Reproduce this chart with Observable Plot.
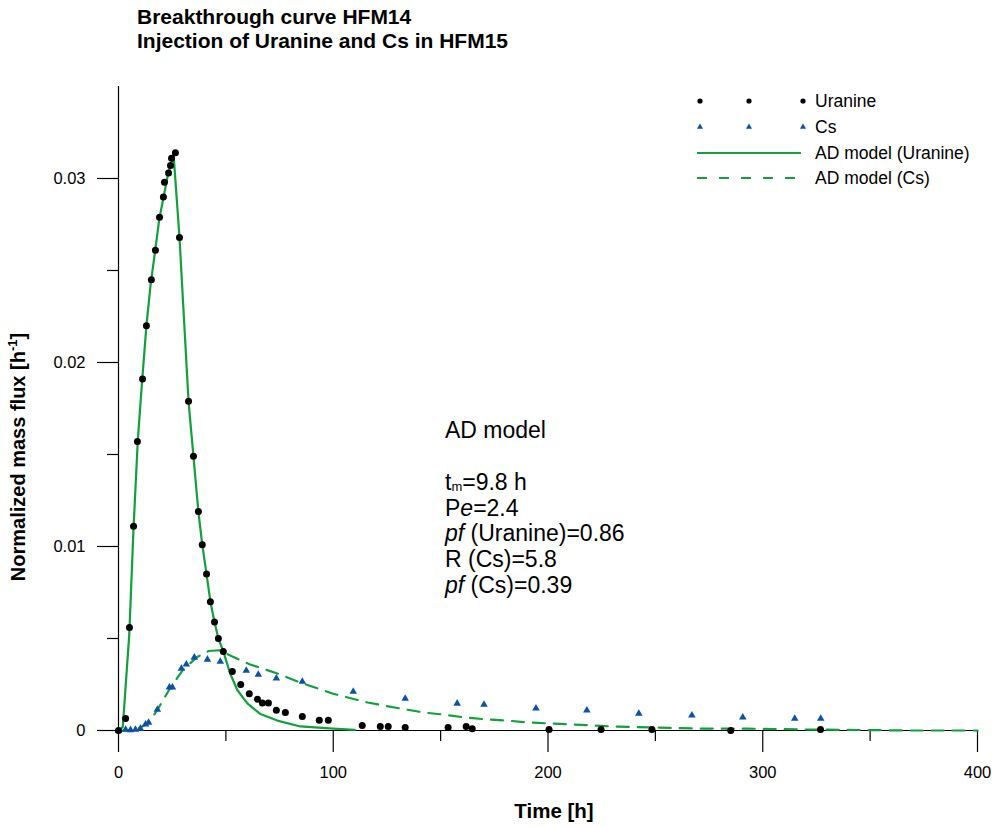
<!DOCTYPE html>
<html>
<head>
<meta charset="utf-8">
<script src="https://cdn.jsdelivr.net/npm/d3@7"></script>
<script src="https://cdn.jsdelivr.net/npm/@observablehq/plot@0.6"></script>
<style>
  body { margin: 0; background: #fff; font-family: "Liberation Sans", Arial, sans-serif; }
  #wrap { position: relative; width: 997px; height: 827px; }
  .title { position: absolute; left: 137px; font-weight: bold; font-size: 21px; line-height: 24px; color: #000; white-space: nowrap; }
  .note { position: absolute; left: 445px; font-size: 23px; line-height: 25.7px; color: #000; white-space: nowrap; }
  .ylab { position: absolute; left: 18px; top: 457px; transform: translate(-50%, -50%) rotate(-90deg); font-weight: bold; font-size: 20px; white-space: nowrap; }
  .xlab { position: absolute; left: 554px; top: 811px; transform: translate(-50%, -50%); font-weight: bold; font-size: 20.5px; white-space: nowrap; }
  #legend { position: absolute; left: 690px; top: 88px; }
</style>
</head>
<body>
<div id="wrap"></div>
<script>
// Measured data: Uranine (black dots)
const uranineT = [0, 3.3, 5.1, 7.0, 8.8, 11.2, 13.0, 15.3, 17.2, 19.1, 20.9, 21.4, 23.3, 24.2, 24.7, 26.5,
  28.4, 32.6, 34.9, 37.2, 39.0, 41.0, 42.8, 44.7, 46.5, 48.8, 53.0, 56.9, 60.9, 64.7, 67.0, 69.8, 73.5, 77.7,
  85.6, 93.5, 97.7, 113.5, 121.9, 125.6, 133.5, 153.5, 161.9, 164.7, 200.5, 224.7, 248.4, 285.1, 326.9];
const uranineV = [0, 0.00065, 0.0056, 0.0111, 0.0157, 0.0191, 0.0220, 0.0245, 0.0261, 0.0279, 0.0290, 0.0298, 0.0303, 0.0307, 0.0311, 0.0314,
  0.0268, 0.0179, 0.0149, 0.0119, 0.0101, 0.0085, 0.0070, 0.0059, 0.0050, 0.0043, 0.0032, 0.0025, 0.0020, 0.0017, 0.0015, 0.0015, 0.0011, 0.00098,
  0.00076, 0.00056, 0.00056, 0.00027, 0.00022, 0.00022, 0.00016, 0.00016, 0.00022, 0.0001, 0.00005, 0.00005, 0.00005, 0, 0.00005];

// Measured data: Cs (blue triangles)
const csT = [0, 3.3, 5.6, 7.9, 10.2, 12.6, 14.0, 18.1, 23.7, 25.1, 29.3, 31.6, 35.3, 41.4, 47.4, 59.5, 65.1, 73.5,
  85.6, 109.3, 133.5, 157.7, 170.2, 194.4, 218.1, 242.3, 267.0, 290.7, 314.9, 327.0];
const csV = [0, 0.00005, 0.00003, 0.00005, 0.0001, 0.00033, 0.00043, 0.00114, 0.00234, 0.00234, 0.00337, 0.00359, 0.00397, 0.00386, 0.00375, 0.00326, 0.00304, 0.00283,
  0.00266, 0.00212, 0.00174, 0.00147, 0.00141, 0.0012, 0.00109, 0.00092, 0.00082, 0.00071, 0.00065, 0.00065];

// AD model (Uranine), solid line
const modelUT = [0, 2, 5, 7, 9, 11, 13, 15, 17, 19, 21, 23, 25, 25.7, 28.4, 32.6, 34.9, 37.2, 39, 41, 42.8, 44.7, 46.5, 48.8,
  52, 55.3, 60, 66, 74, 84.7, 100, 110];
const modelUV = [0, 0.0002, 0.0052, 0.0110, 0.0158, 0.0190, 0.0220, 0.0243, 0.0260, 0.0278, 0.0290, 0.0302, 0.0310, 0.0312, 0.0268, 0.0179, 0.0149, 0.0119, 0.0101, 0.0085, 0.0070, 0.0059, 0.0050, 0.0043,
  0.0031, 0.0022, 0.00147, 0.0009, 0.00054, 0.00022, 0.0001, 0.00003];

// AD model (Cs), dashed line
const modelCsT = [0, 4, 7, 10, 14, 18, 24, 30, 36.7, 42, 47, 53.5, 61, 74, 84.7, 100, 116, 131, 142, 151, 161, 171.6, 181, 191.6, 201,
  211.6, 221, 230, 250.7, 270.7, 292.6, 323, 370, 400];
const modelCsV = [0, 0.00001, 0.00005, 0.00015, 0.0004, 0.0011, 0.0023, 0.0033, 0.0040, 0.00432, 0.00436, 0.0040, 0.0036, 0.0031, 0.0026, 0.0020, 0.00152, 0.0012, 0.00098, 0.00087, 0.00071, 0.0006, 0.00054, 0.00043, 0.00038,
  0.00033, 0.00027, 0.00022, 0.00016, 0.0001, 0.0001, 0.00005, 0, 0];

const yMajor = [0, 0.01, 0.02, 0.03];
const yMinor = [0.005, 0.015, 0.025];
const xMajor = [0, 100, 200, 300, 400];
const xMinor = [50, 150, 250, 350];

const green = "#12a03c";
const blue = "#0b52a6";

const uranine = uranineT.map((t, i) => ({t, v: uranineV[i]}));
const cs = csT.map((t, i) => ({t, v: csV[i]}));
const modelU = modelUT.map((t, i) => ({t, v: modelUV[i]}));
const modelCs = modelCsT.map((t, i) => ({t, v: modelCsV[i]}));

const chart = Plot.plot({
  width: 997,
  height: 827,
  marginLeft: 118,
  marginRight: 20,
  marginTop: 86,
  marginBottom: 97,
  style: {fontFamily: "'Liberation Sans', Arial, sans-serif", fontSize: "16.5px", color: "#000", background: "transparent"},
  x: {domain: [0, 400]},
  y: {domain: [0, 0.035]},
  marks: [
    Plot.ruleX([0], {y1: 0, y2: 0.035, stroke: "#000", strokeWidth: 1.2}),
    Plot.ruleY([0], {stroke: "#000", strokeWidth: 1.2}),
    Plot.axisY(yMajor, {tickSize: 21, tickPadding: 12, tickFormat: d => d === 0 ? "0" : d3.format(".2f")(d), label: null, strokeWidth: 1.2}),
    Plot.axisY(yMinor, {tickSize: 11, tickFormat: () => "", label: null, strokeWidth: 1.2}),
    Plot.axisX(xMajor, {tickSize: 22, tickPadding: 14, tickFormat: d => String(d), label: null, strokeWidth: 1.2}),
    Plot.axisX(xMinor, {tickSize: 11, tickFormat: () => "", label: null, strokeWidth: 1.2}),
    Plot.line(modelU, {x: "t", y: "v", stroke: green, strokeWidth: 2.2}),
    Plot.line(modelCs, {x: "t", y: "v", stroke: green, strokeWidth: 2.2, strokeDasharray: "12,9"}),
    Plot.dot(cs, {x: "t", y: "v", symbol: "triangle", r: 2.8, fill: blue, stroke: "none"}),
    Plot.dot(uranine, {x: "t", y: "v", r: 3.5, fill: "#000", stroke: "none"})
  ]
});

const wrap = document.getElementById("wrap");
chart.style.position = "absolute";
chart.style.left = "0px";
chart.style.top = "0px";
wrap.appendChild(chart);

function addDiv(cls, html, top) {
  const d = document.createElement("div");
  d.className = cls;
  d.innerHTML = html;
  if (top !== undefined) d.style.top = top + "px";
  wrap.appendChild(d);
  return d;
}

addDiv("title", "Breakthrough curve HFM14", 5);
addDiv("title", "Injection of Uranine and Cs in HFM15", 29);
addDiv("ylab", "Normalized mass flux [h<sup style='font-size:13px;line-height:0'>-1</sup>]");
addDiv("xlab", "Time [h]");
addDiv("note", "AD model", 418);
const lines = [
  "t<span style='font-size:13px;position:relative;top:1px'>m</span>=9.8 h",
  "P<i>e</i>=2.4",
  "<i>pf</i> (Uranine)=0.86",
  "R (Cs)=5.8",
  "<i>pf</i> (Cs)=0.39"
];
lines.forEach((s, i) => addDiv("note", s, 470 + i * 25.7));

// Legend
const legendItems = ["Uranine", "Cs", "AD model (Uranine)", "AD model (Cs)"];
const lg = d3.create("svg").attr("width", 305).attr("height", 110).attr("id", "legend")
  .style("font-family", "'Liberation Sans', Arial, sans-serif").style("font-size", "17.5px");
const rowY = [13, 39, 65, 90];
[10, 59, 113].forEach(x => {
  lg.append("circle").attr("cx", x).attr("cy", rowY[0]).attr("r", 2.6).attr("fill", "#000");
  lg.append("path").attr("d", d3.symbol(d3.symbolTriangle, 16)()).attr("transform", `translate(${x},${rowY[1]})`).attr("fill", blue);
});
lg.append("line").attr("x1", 7).attr("x2", 111).attr("y1", rowY[2]).attr("y2", rowY[2]).attr("stroke", green).attr("stroke-width", 2);
lg.append("line").attr("x1", 7).attr("x2", 111).attr("y1", rowY[3]).attr("y2", rowY[3]).attr("stroke", green).attr("stroke-width", 2).attr("stroke-dasharray", "10,12");
legendItems.forEach((s, i) => {
  lg.append("text").attr("x", 125).attr("y", rowY[i]).attr("dy", "0.35em").text(s);
});
wrap.appendChild(lg.node());
</script>
</body>
</html>
